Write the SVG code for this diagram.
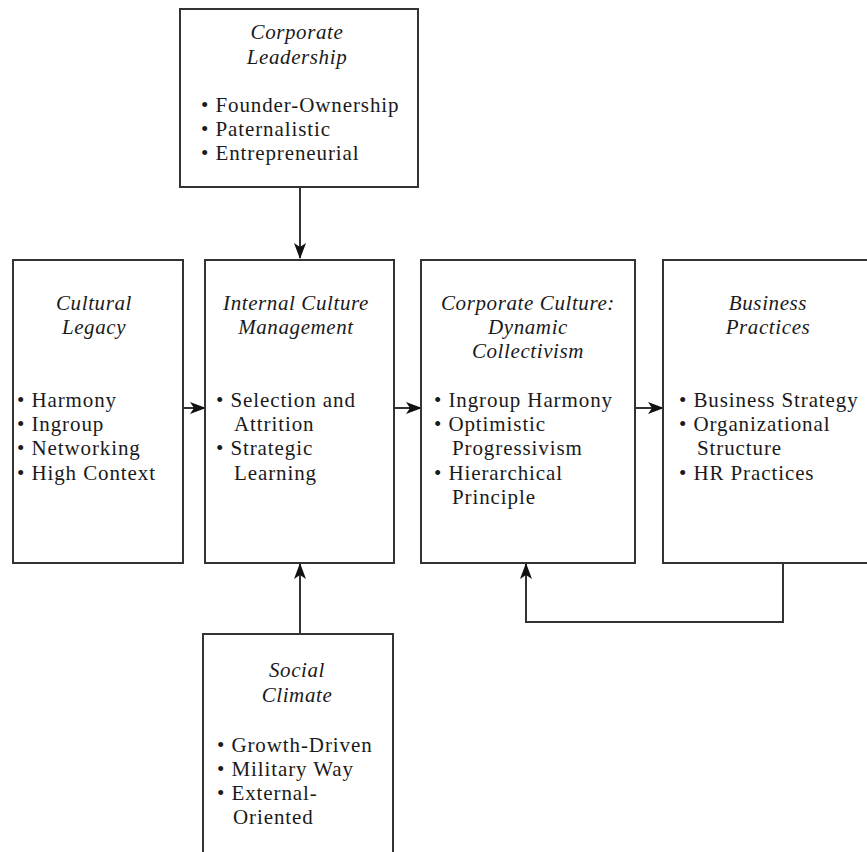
<svg xmlns="http://www.w3.org/2000/svg" width="867" height="852" viewBox="0 0 867 852">
<style>
.box{fill:#fff;stroke:#333;stroke-width:2}
.t{font-family:"Liberation Serif","Times New Roman",serif;font-size:21px;fill:#1a1a1a;letter-spacing:0.9px}
.h{font-style:italic;text-anchor:middle;letter-spacing:0.6px}
.c{fill:none;stroke:#333;stroke-width:2}
</style>
<defs>
<marker id="ah" markerWidth="16" markerHeight="12" refX="15" refY="6" orient="auto" markerUnits="userSpaceOnUse">
<path d="M0,0 L16,6 L0,12 L4,6 z" fill="#111"/>
</marker>
</defs>
<rect width="867" height="852" fill="#fff"/>
<g id="connectors">
<path class="c" d="M300,187 V258" marker-end="url(#ah)"/>
<path class="c" d="M183,408 H205" marker-end="url(#ah)"/>
<path class="c" d="M394,408 H421" marker-end="url(#ah)"/>
<path class="c" d="M635,408 H663" marker-end="url(#ah)"/>
<path class="c" d="M300,634 V564" marker-end="url(#ah)"/>
<path class="c" d="M783,563 V622 H526 V564" marker-end="url(#ah)"/>
</g>
<g id="corporate-leadership">
<rect class="box" x="180" y="9" width="238" height="178"/>
<text class="t h" x="297" y="39">Corporate</text>
<text class="t h" x="297" y="64">Leadership</text>
<text class="t" x="201" y="112">• Founder-Ownership</text>
<text class="t" x="201" y="136">• Paternalistic</text>
<text class="t" x="201" y="160">• Entrepreneurial</text>
</g>
<g id="cultural-legacy">
<rect class="box" x="13" y="260" width="170" height="303"/>
<text class="t h" x="94" y="310">Cultural</text>
<text class="t h" x="94" y="334">Legacy</text>
<text class="t" x="17" y="407">• Harmony</text>
<text class="t" x="17" y="431">• Ingroup</text>
<text class="t" x="17" y="455">• Networking</text>
<text class="t" x="17" y="480">• High Context</text>
</g>
<g id="internal-culture-management">
<rect class="box" x="205" y="260" width="189" height="303"/>
<text class="t h" x="296" y="310">Internal Culture</text>
<text class="t h" x="296" y="334">Management</text>
<text class="t" x="216" y="407">• Selection and</text>
<text class="t" x="234" y="431">Attrition</text>
<text class="t" x="216" y="455">• Strategic</text>
<text class="t" x="234" y="480">Learning</text>
</g>
<g id="corporate-culture">
<rect class="box" x="421" y="260" width="214" height="303"/>
<text class="t h" x="528" y="310">Corporate Culture:</text>
<text class="t h" x="528" y="334">Dynamic</text>
<text class="t h" x="528" y="358">Collectivism</text>
<text class="t" x="434" y="407">• Ingroup Harmony</text>
<text class="t" x="434" y="431">• Optimistic</text>
<text class="t" x="452" y="455">Progressivism</text>
<text class="t" x="434" y="480">• Hierarchical</text>
<text class="t" x="452" y="504">Principle</text>
</g>
<g id="business-practices">
<rect class="box" x="663" y="260" width="220" height="303"/>
<text class="t h" x="768" y="310">Business</text>
<text class="t h" x="768" y="334">Practices</text>
<text class="t" x="679" y="407">• Business Strategy</text>
<text class="t" x="679" y="431">• Organizational</text>
<text class="t" x="697" y="455">Structure</text>
<text class="t" x="679" y="480">• HR Practices</text>
</g>
<g id="social-climate">
<rect class="box" x="203" y="634" width="190" height="240"/>
<text class="t h" x="297" y="677">Social</text>
<text class="t h" x="297" y="702">Climate</text>
<text class="t" x="217" y="752">• Growth-Driven</text>
<text class="t" x="217" y="776">• Military Way</text>
<text class="t" x="217" y="800">• External-</text>
<text class="t" x="233" y="824">Oriented</text>
</g>
</svg>
